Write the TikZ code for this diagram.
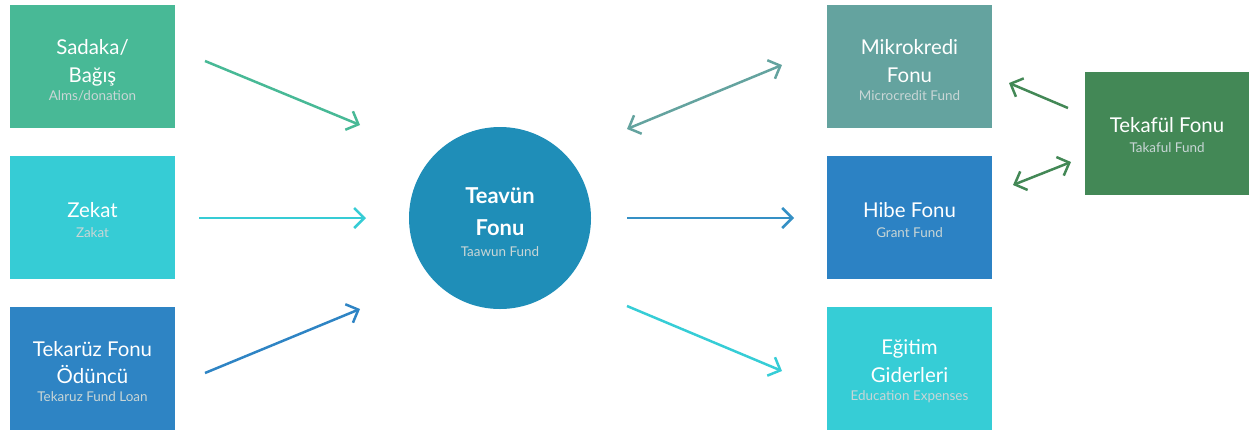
\documentclass[tikz,border=0pt]{standalone}
\usepackage{fontspec}
\setmainfont{Lato}
\usetikzlibrary{arrows.meta}
\definecolor{cSad}{HTML}{48B996}
\definecolor{cZek}{HTML}{36CCD5}
\definecolor{cTek}{HTML}{2E84C4}
\definecolor{cCir}{HTML}{1F8EB8}
\definecolor{cMik}{HTML}{64A39F}
\definecolor{cHib}{HTML}{2C82C4}
\definecolor{cHibA}{HTML}{3590C5}
\definecolor{cEgi}{HTML}{36CDD6}
\definecolor{cTkf}{HTML}{438856}
\definecolor{subc}{HTML}{C9D6D6}
\newcommand\subtxt{\normalfont\fontsize{13.5}{16}\selectfont\color{subc}}
\tikzset{
  box/.style={rectangle, draw=none, fill=#1, minimum width=165bp, minimum height=123bp,
    inner sep=0pt},
  txt/.style={inner sep=0pt, text=white, align=center, font=\fontsize{20.5}{28}\selectfont},
  arr/.style={draw=#1, line width=2.5bp, -{Straight Barb[length=10bp,width=20bp]}},
  darr/.style={draw=#1, line width=2.5bp, {Straight Barb[length=10bp,width=20bp]}-{Straight Barb[length=10bp,width=20bp]}}
}
\begin{document}
\begin{tikzpicture}[x=1bp,y=-1bp]
\useasboundingbox (0,0) rectangle (1249,429);
% left column
\node[box=cSad] (sadaka) at (92.5,66.5) {};
\node[box=cZek] (zekat) at (92.5,217.5) {};
\node[box=cTek] (tekaruz) at (92.5,368) {};
\node[txt] (sadakaT) at ([yshift=-3.5bp]sadaka.center) {Sadaka/\\Bağış\\[-10bp]\subtxt Alms/donation};
\node[txt] (zekatT) at ([yshift=-2.5bp]zekat.center) {Zekat\\[-7bp]\subtxt Zakat};
\node[txt] (tekaruzT) at ([yshift=-3.5bp]tekaruz.center) {Tekarüz Fonu\\Ödüncü\\[-10bp]\subtxt Tekaruz Fund Loan};
% centre
\node[circle, fill=cCir, minimum size=182bp, inner sep=0pt] (teavun) at (500,218) {};
\node[txt, font=\bfseries\fontsize{22}{32}\selectfont] (teavunT) at ([yshift=-4bp]teavun.center)
  {Teavün\\Fonu\\[-11bp]\subtxt Taawun Fund};
% right column
\node[box=cMik] (mikro) at (909.5,66.5) {};
\node[box=cHib] (hibe) at (909.5,217.5) {};
\node[box=cEgi] (egitim) at (909.5,368) {};
\node[box=cTkf, minimum width=164bp] (tekaful) at (1167,133.5) {};
\node[txt] (mikroT) at ([yshift=-3.5bp]mikro.center) {Mikrokredi\\Fonu\\[-10bp]\subtxt Microcredit Fund};
\node[txt] (hibeT) at ([yshift=-2.5bp]hibe.center) {Hibe Fonu\\[-7bp]\subtxt Grant Fund};
\node[txt] (egitimT) at ([yshift=-3.5bp]egitim.center) {Eğitim\\Giderleri\\[-10bp]\subtxt Education Expenses};
\node[txt] (tekafulT) at ([yshift=-1.5bp]tekaful.center) {Tekafül Fonu\\[-7bp]\subtxt Takaful Fund};
% arrow end points
\coordinate (s1) at (205,61);   \coordinate (e1) at (360,125);
\coordinate (s2) at (199,218);  \coordinate (e2) at (366,218);
\coordinate (s3) at (205,373);  \coordinate (e3) at (360,309);
\coordinate (s4) at (627,129);  \coordinate (e4) at (782,65);
\coordinate (s5) at (627,218);  \coordinate (e5) at (794,218);
\coordinate (s6) at (627,306);  \coordinate (e6) at (782,371);
\coordinate (s7) at (1068,108); \coordinate (e7) at (1009,83);
\coordinate (s8) at (1013,185); \coordinate (e8) at (1071,162);
\draw[arr=cSad] (s1) -- (e1);
\draw[arr=cZek] (s2) -- (e2);
\draw[arr=cTek] (s3) -- (e3);
\draw[darr=cMik] (s4) -- (e4);
\draw[arr=cHibA] (s5) -- (e5);
\draw[arr=cEgi] (s6) -- (e6);
\draw[arr=cTkf] (s7) -- (e7);
\draw[darr=cTkf] (s8) -- (e8);
\end{tikzpicture}
\end{document}
